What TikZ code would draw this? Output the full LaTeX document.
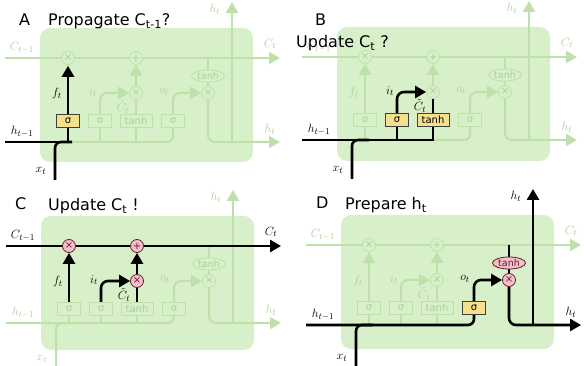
\documentclass[tikz,border=0pt]{standalone}
\usepackage[no-math]{fontspec}
\setmainfont{DejaVu Sans}
\usetikzlibrary{arrows.meta,shapes.geometric}
\definecolor{boxg}{RGB}{216,240,202}
\definecolor{fadeg}{RGB}{190,224,170}
\definecolor{fadet}{RGB}{172,206,155}
\definecolor{pinkc}{RGB}{242,192,202}
\definecolor{gatey}{RGB}{246,224,140}
\definecolor{darkr}{RGB}{105,30,40}
\pgfdeclarelayer{bg}
\pgfsetlayers{bg,main}
\tikzset{
  fl/.style={draw=fadeg, line width=2pt},
  hl/.style={draw=black, line width=2.6pt},
  fa/.style={-{Triangle[length=11pt,width=12pt]}},
  gate/.style={rectangle, draw=fadeg, fill=boxg, text=fadet, line width=0.8pt,
    minimum width=23pt, minimum height=13pt, inner sep=0pt,
    font=\fontsize{10}{10}\selectfont},
  wgate/.style={minimum width=32pt},
  hgate/.style={draw=black!75, fill=gatey, text=black},
  circ/.style={circle, draw=fadeg, fill=boxg, text=fadet, line width=0.8pt,
    minimum size=13pt, inner sep=0pt, font=\fontsize{10}{10}\selectfont},
  hcirc/.style={draw=darkr, fill=pinkc, text=darkr},
  tanhe/.style={ellipse, draw=fadeg, fill=boxg, text=fadet, line width=0.8pt,
    minimum width=33pt, minimum height=12pt, inner sep=0pt,
    font=\fontsize{9.5}{9.5}\selectfont},
  lab/.style={text=fadet, font=\fontsize{12.5}{12.5}\selectfont, inner sep=0pt},
  hlab/.style={text=black},
  title/.style={font=\fontsize{16}{18}\selectfont, inner sep=0pt, anchor=base west},
  s-gf/.style={}, s-gi/.style={}, s-gc/.style={}, s-go/.style={},
  s-fx/.style={}, s-pl/.style={}, s-ix/.style={}, s-ox/.style={}, s-th/.style={},
  l-f/.style={}, l-i/.style={}, l-c/.style={}, l-o/.style={},
  l-cin/.style={}, l-cout/.style={}, l-hin/.style={}, l-hout/.style={},
  l-htop/.style={}, l-x/.style={}
}
\newcommand\lstmbase[2]{%
  \begin{pgfonlayer}{bg}
    \fill[boxg, rounded corners=10pt] (40,28) rectangle (253,162);
  \end{pgfonlayer}
  \coordinate (#1-cl) at (5,58);
  \coordinate (#1-cr) at (280,58);
  \coordinate (#1-hl) at (5,#2);
  \coordinate (#1-hr) at (280,#2);
  \coordinate (#1-xb) at (55,180);
  \coordinate (#1-xm) at (72,#2);
  \coordinate (#1-ht) at (232,2);
  \node[circ, s-fx] (#1-fx) at (68,58) {×};
  \node[circ, s-pl] (#1-pl) at (136,58) {+};
  \node[circ, s-ix] (#1-ix) at (136,93) {×};
  \node[circ, s-ox] (#1-ox) at (208,93) {×};
  \node[tanhe, s-th] (#1-th) at (208,76) {tanh};
  \node[gate, s-gf] (#1-gf) at (68,121) {σ};
  \node[gate, s-gi] (#1-gi) at (100,121) {σ};
  \node[gate, wgate, s-gc] (#1-gc) at (136,121) {tanh};
  \node[gate, s-go] (#1-go) at (173,121) {σ};
  \node[lab, l-cin] (#1-lcin) at (22,48) {$C_{t-1}$};
  \node[lab, l-cout] (#1-lcout) at (270,44) {$C_t$};
  \node[lab, l-hin] (#1-lhin) at (22,#2-10) {$h_{t-1}$};
  \node[lab, l-hout] (#1-lhout) at (270,#2-13) {$h_t$};
  \node[lab, l-htop] (#1-lhtop) at (215,9) {$h_t$};
  \node[lab, l-x] (#1-lx) at (41,171) {$x_t$};
  \node[lab, l-f] (#1-lf) at (57,94) {$f_t$};
  \node[lab, l-i] (#1-li) at (93,92) {$i_t$};
  \node[lab, l-c] (#1-lc) at (123,107) {$\tilde{C}_t$};
  \node[lab, l-o] (#1-lo) at (164,92) {$o_t$};
  \begin{pgfonlayer}{bg}
    \draw[fl, fa] (#1-cl) -- (#1-cr);
    \draw[fl, rounded corners=6pt] (#1-hl) -- (#1-go.south |- #1-hl) -- (#1-go.south);
    \draw[fl, rounded corners=6pt] (#1-xb) |- (#1-xm);
    \draw[fl] (#1-gf.south |- #1-hl) -- (#1-gf.south);
    \draw[fl] (#1-gi.south |- #1-hl) -- (#1-gi.south);
    \draw[fl] (#1-gc.south |- #1-hl) -- (#1-gc.south);
    \draw[fl, fa] (#1-gf) -- (#1-fx);
    \draw[fl, fa, rounded corners=7pt] (#1-gi) |- (#1-ix);
    \draw[fl] (#1-gc) -- (#1-ix);
    \draw[fl, fa] (#1-ix) -- (#1-pl);
    \draw[fl, fa, rounded corners=7pt] (#1-go) |- (#1-ox);
    \draw[fl] (#1-ox |- #1-cl) -- (#1-th);
    \draw[fl] (#1-th) -- (#1-ox);
    \draw[fl, fa, rounded corners=7pt] (#1-ox) |- (#1-hr);
    \draw[fl, fa] (#1-ht |- #1-hl) -- (#1-ht);
  \end{pgfonlayer}
}
\begin{document}
\begin{tikzpicture}[x=1pt, y=-1pt]
\useasboundingbox (0,0) rectangle (584,366);

% ---------- Panel A ----------
\begin{scope}[s-gf/.style={hgate}, l-f/.style={hlab}, l-hin/.style={hlab}, l-x/.style={hlab}]
  \lstmbase{A}{142}
  \begin{pgfonlayer}{bg}
    \draw[hl, rounded corners=6pt] (A-xb) |- (A-xm);
    \draw[hl] (A-hl) -- (A-gf.south |- A-hl) -- (A-gf.south);
    \draw[hl, fa, shorten >=1pt] (A-gf) -- (A-fx);
  \end{pgfonlayer}
\end{scope}
\node[title] (tA) at (19,26) {A};
\node[title] (ttA) at (48,26) {Propagate C\textsubscript{t-1}?};

% ---------- Panel B ----------
\begin{scope}[shift={(297,-1)}, s-gi/.style={hgate}, s-gc/.style={hgate},
  l-i/.style={hlab}, l-c/.style={hlab}, l-hin/.style={hlab}, l-x/.style={hlab}]
  \lstmbase{B}{141}
  \begin{pgfonlayer}{bg}
    \draw[hl, rounded corners=6pt] (B-xb) |- (B-xm);
    \draw[hl] (B-hl) -- (B-gc.south |- B-hl) -- (B-gc.south);
    \draw[hl] (B-gi.south |- B-hl) -- (B-gi.south);
    \draw[hl, fa, rounded corners=7pt] (B-gi) |- (B-ix);
    \draw[hl] (B-gc) -- (B-ix);
  \end{pgfonlayer}
\end{scope}
\node[title] (tB) at (315,26) {B};
\node[title] (ttB) at (296,48) {Update C\textsubscript{t} ?};

% ---------- Panel C ----------
\begin{scope}[shift={(1,188)}, s-fx/.style={hcirc}, s-pl/.style={hcirc}, s-ix/.style={hcirc},
  l-f/.style={hlab}, l-i/.style={hlab}, l-c/.style={hlab}, l-cin/.style={hlab}, l-cout/.style={hlab}]
  \lstmbase{C}{135}
  \begin{pgfonlayer}{bg}
    \draw[hl, fa] (C-cl) -- (C-cr);
    \draw[hl, fa] (C-gf) -- (C-fx);
    \draw[hl, fa, rounded corners=7pt] (C-gi) |- (C-ix);
    \draw[hl] (C-gc) -- (C-ix);
    \draw[hl, fa] (C-ix) -- (C-pl);
  \end{pgfonlayer}
\end{scope}
\node[title] (tC) at (15,210) {C};
\node[title] (ttC) at (48,211) {Update C\textsubscript{t} !};

% ---------- Panel D ----------
\begin{scope}[shift={(301,187)}, s-go/.style={hgate}, s-ox/.style={hcirc},
  s-th/.style={hcirc}, l-o/.style={hlab}, l-hin/.style={hlab}, l-x/.style={hlab},
  l-hout/.style={hlab}, l-htop/.style={hlab}]
  \lstmbase{D}{138}
  \begin{pgfonlayer}{bg}
    \draw[hl, rounded corners=6pt] (D-xb) |- (D-xm);
    \draw[hl, rounded corners=6pt] (D-hl) -- (D-go.south |- D-hl) -- (D-go.south);
    \draw[hl, fa, rounded corners=7pt] (D-go) |- (D-ox);
    \draw[hl] (D-ox |- D-cl) -- (D-th);
    \draw[hl] (D-th) -- (D-ox);
    \draw[hl, fa, rounded corners=7pt] (D-ox) |- (D-hr);
    \draw[hl, fa] (D-ht |- D-hl) -- (D-ht);
  \end{pgfonlayer}
\end{scope}
\node[title] (tD) at (316,209) {D};
\node[title] (ttD) at (345,210) {Prepare h\textsubscript{t}};
\end{tikzpicture}
\end{document}
